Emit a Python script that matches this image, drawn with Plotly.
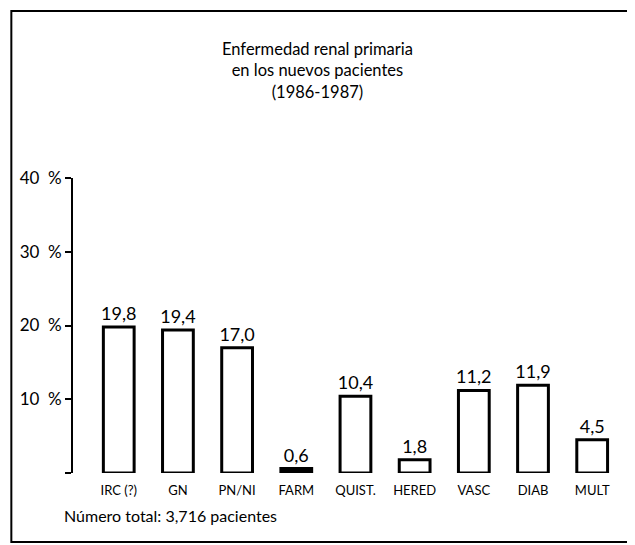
import plotly.graph_objects as go

categories = ["IRC (?)", "GN", "PN/NI", "FARM", "QUIST.", "HERED", "VASC", "DIAB", "MULT"]
values = [19.8, 19.4, 17.0, 0.6, 10.4, 1.8, 11.2, 11.9, 4.5]
y_tick_vals = [0, 10, 20, 30, 40]
y_tick_text = ["", "10\u2002%", "20\u2002%", "30\u2002%", "40\u2002%"]
title_lines = ["Enfermedad renal primaria", "en los nuevos pacientes", "(1986-1987)"]
footnote_text = "Número total: 3,716 pacientes"

FONT = "Lato, Open Sans, sans-serif"

x_idx = list(range(len(categories)))
labels = [f"{v:.1f}".replace(".", ",") for v in values]
# very thin bars print as solid black in the original
fills = ["black" if v < 1 else "white" for v in values]

# page body has an 8px default margin; compensate
OFF = 8
W, H = 635, 545
AXIS_X, TOP_Y, BASE_Y = 70, 178, 473
L = AXIS_X - OFF
T = TOP_Y - OFF
B = H - (BASE_Y - OFF)
pw = 550
R = W - L - pw
ph = H - T - B

fig = go.Figure()
fig.add_trace(go.Bar(
    x=x_idx, y=values, width=0.52,
    marker=dict(color=fills, line=dict(color="black", width=3)),
    text=labels, textposition="outside", cliponaxis=False,
    constraintext="none",
    textfont=dict(family=FONT, size=18, color="black"),
    hoverinfo="skip",
))

def px_to_paper_x(px):
    return (px - OFF - L) / pw

def px_to_paper_y(py):
    return (H - B - (py - OFF)) / ph

fig.update_layout(
    width=W, height=H,
    margin=dict(l=L, r=R, t=T, b=B),
    paper_bgcolor="white", plot_bgcolor="white",
    showlegend=False,
    font=dict(family=FONT, color="black"),
    xaxis=dict(
        range=[-0.773, 8.47], tickvals=x_idx, ticktext=categories,
        showline=False, showgrid=False, zeroline=False, ticks="",
        tickfont=dict(size=13, family=FONT), ticklabelstandoff=8,
    ),
    yaxis=dict(
        range=[0, 40], tickvals=y_tick_vals, ticktext=y_tick_text,
        showline=True, linecolor="black", linewidth=2,
        ticks="outside", ticklen=6, tickwidth=2, tickcolor="black",
        showgrid=False, zeroline=False,
        tickfont=dict(size=17, family=FONT),
    ),
)

fig.add_shape(type="rect", xref="paper", yref="paper",
              x0=px_to_paper_x(8), x1=px_to_paper_x(630),
              y0=px_to_paper_y(542), y1=px_to_paper_y(11),
              line=dict(color="black", width=2), fillcolor="rgba(0,0,0,0)", layer="below")

fig.add_annotation(text="<br>".join(title_lines), xref="paper", yref="paper",
                   x=px_to_paper_x(316), y=px_to_paper_y(70),
                   xanchor="center", yanchor="middle", showarrow=False,
                   align="center", font=dict(size=16.5, family=FONT, color="black"))

fig.add_annotation(text=footnote_text, xref="paper", yref="paper",
                   x=px_to_paper_x(59), y=px_to_paper_y(515),
                   xanchor="left", yanchor="middle", showarrow=False,
                   font=dict(size=16, family=FONT, color="black"))

fig.write_html("out.html")
